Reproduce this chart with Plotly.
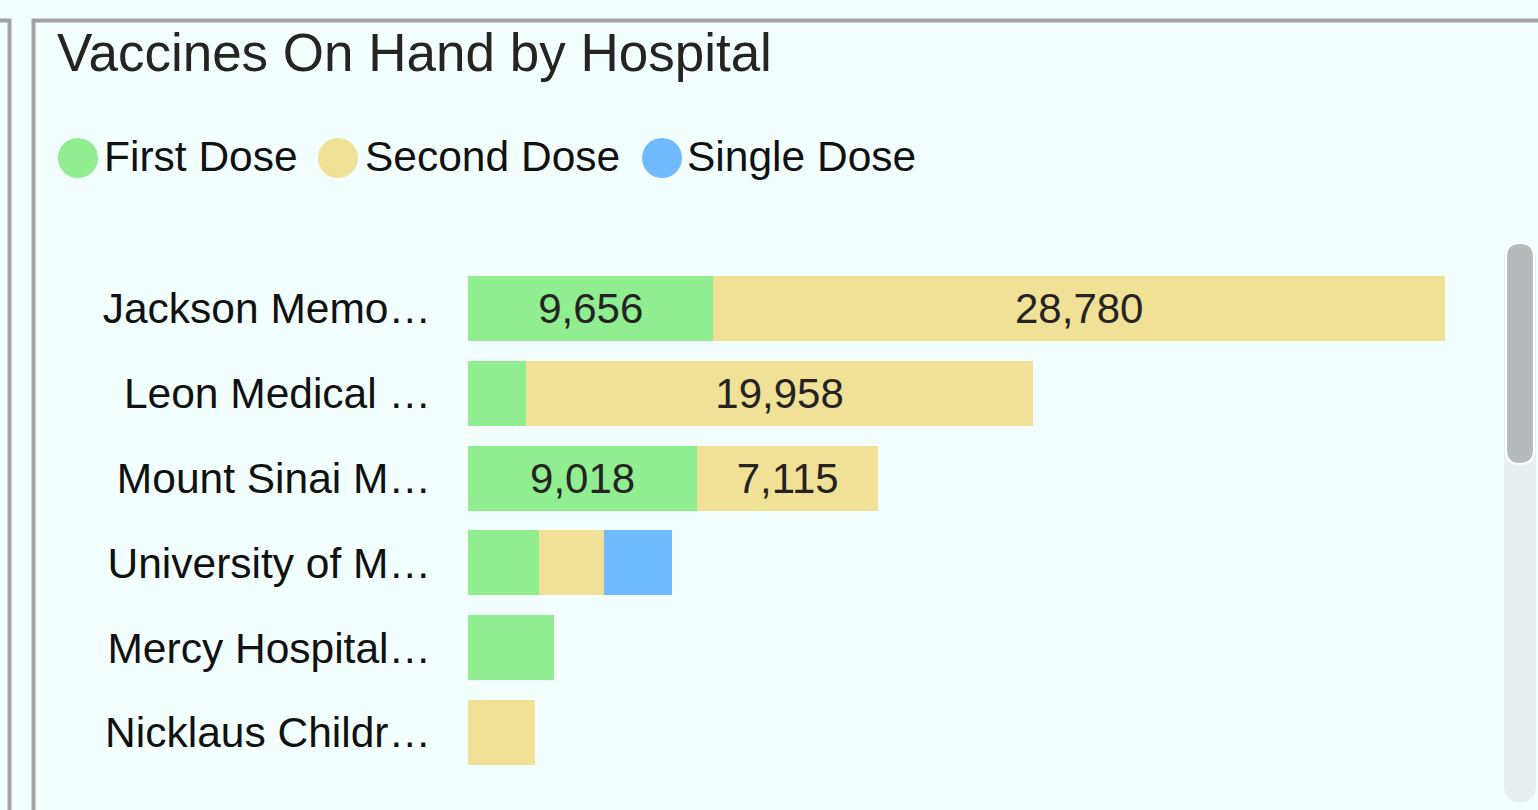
import plotly.graph_objects as go

# ---- data ----
hospitals = ["Jackson Memo…", "Leon Medical …", "Mount Sinai M…",
             "University of M…", "Mercy Hospital…", "Nicklaus Childr…"]
series_names = ["First Dose", "Second Dose", "Single Dose"]
first_dose = [9656, 2277, 9018, 2790, 3380, None]
second_dose = [28780, 19958, 7115, 2550, None, 2630]
single_dose = [None, None, None, 2670, None, None]
series_values = [first_dose, second_dose, single_dose]
series_colors = ["#90EE90", "#F0E197", "#70BBFF"]

W, H = 1538, 810
ML, MR, MT, MB = 468, 51, 266, 35
PW, PH = W - ML - MR, H - MT - MB
BG = "#F2FFFE"
FONT = "Liberation Sans, Arial, sans-serif"


def px(x):
    return (x - ML) / PW


def py(y):
    return (H - MB - y) / PH


def rounded_rect(x0, y0, x1, y1, r):
    pts = [
        f"M{px(x0 + r)},{py(y0)}",
        f"L{px(x1 - r)},{py(y0)}",
        f"Q{px(x1)},{py(y0)} {px(x1)},{py(y0 + r)}",
        f"L{px(x1)},{py(y1 - r)}",
        f"Q{px(x1)},{py(y1)} {px(x1 - r)},{py(y1)}",
        f"L{px(x0 + r)},{py(y1)}",
        f"Q{px(x0)},{py(y1)} {px(x0)},{py(y1 - r)}",
        f"L{px(x0)},{py(y0 + r)}",
        f"Q{px(x0)},{py(y0)} {px(x0 + r)},{py(y0)}",
        "Z",
    ]
    return " ".join(pts)


fig = go.Figure()
for name, vals, col in zip(series_names, series_values, series_colors):
    fig.add_trace(go.Bar(
        y=hospitals, x=vals, name=name, orientation="h",
        marker=dict(color=col, line=dict(width=0)),
        texttemplate="%{x:,.0f}", textposition="inside",
        insidetextanchor="middle", textangle=0,
        textfont=dict(size=42, color="#252423", family=FONT),
        showlegend=False, width=0.766,
    ))

shapes = []
annotations = []
# frame lines
shapes.append(dict(type="path", xref="paper", yref="paper",
                   path=f"M{px(0)},{py(20.5)} L{px(9.5)},{py(20.5)} L{px(9.5)},{py(812)}",
                   line=dict(color="#A3A3A3", width=4)))
shapes.append(dict(type="path", xref="paper", yref="paper",
                   path=f"M{px(33.5)},{py(812)} L{px(33.5)},{py(20.5)} L{px(1540)},{py(20.5)}",
                   line=dict(color="#A3A3A3", width=4)))
# scrollbar
shapes.append(dict(type="path", xref="paper", yref="paper",
                   path=rounded_rect(1504, 243, 1536, 802, 16),
                   fillcolor="#E9EFEF", line=dict(width=0)))
shapes.append(dict(type="path", xref="paper", yref="paper",
                   path=rounded_rect(1506, 243, 1534, 464, 14),
                   fillcolor="#B5BABA", line=dict(color="white", width=2)))

# legend (manual, circles)
legend_circle_x = [78, 338, 662]
legend_text_x = [102, 363, 685]
for name, col, cx, tx in zip(series_names, series_colors, legend_circle_x, legend_text_x):
    shapes.append(dict(type="circle", xref="paper", yref="paper",
                       x0=px(cx - 20), x1=px(cx + 20), y0=py(178), y1=py(138),
                       fillcolor=col, line=dict(width=0)))
    annotations.append(dict(xref="paper", yref="paper", x=px(tx), y=py(157),
                            xanchor="left", yanchor="middle", showarrow=False,
                            text=name, font=dict(size=42.5, color="#111111", family=FONT)))

fig.update_layout(
    width=W, height=H,
    margin=dict(l=ML, r=MR, t=MT, b=MB, pad=0),
    paper_bgcolor=BG, plot_bgcolor=BG,
    barmode="stack",
    title=dict(text="Vaccines On Hand by Hospital", xref="container", yref="container",
               x=57 / W, y=1 - 52 / H, xanchor="left", yanchor="middle",
               font=dict(size=53, color="#252423", family=FONT)),
    xaxis=dict(visible=False, range=[0, 40088], fixedrange=True),
    yaxis=dict(autorange="reversed", showgrid=False, zeroline=False, showline=False,
               ticks="", ticklabelstandoff=36,
               tickfont=dict(size=42.5, color="#111111", family=FONT)),
    uniformtext=dict(minsize=42, mode="hide"),
    shapes=shapes, annotations=annotations,
    showlegend=False,
)

fig.write_html("out.html", config={"displayModeBar": False},
               post_script="document.body.style.margin='0';")
